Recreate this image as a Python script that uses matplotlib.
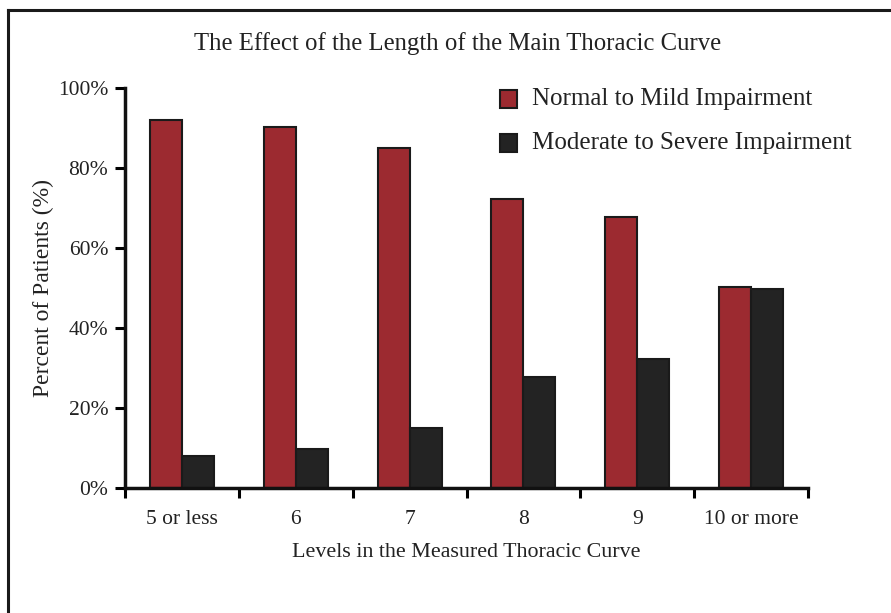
import matplotlib
matplotlib.use("Agg")
import matplotlib.pyplot as plt
from matplotlib.lines import Line2D
from matplotlib.patches import Rectangle
import numpy as np

categories = ["5 or less", "6", "7", "8", "9", "10 or more"]
normal_mild = [92, 90.3, 85, 72.3, 67.7, 50.3]
moderate_severe = [8, 9.7, 15, 27.7, 32.3, 49.7]
yticks = [0, 20, 40, 60, 80, 100]
series_names = ["Normal to Mild Impairment", "Moderate to Severe Impairment"]

red = "#9c2a30"
dark = "#232323"
txt = "#222222"

plt.rcParams["font.family"] = ["Liberation Serif", "DejaVu Serif"]

fig = plt.figure(figsize=(8.91, 6.13), dpi=100)
W, H = 891, 613
ax = fig.add_axes([125 / W, (H - 488) / H, (808 - 125) / W, 400 / H])

x = np.arange(len(categories)) + 0.5
bw = 0.281
ax.bar(x - bw / 2, normal_mild, bw, color=red, edgecolor="#1a1a1a", linewidth=1.5)
ax.bar(x + bw / 2, moderate_severe, bw, color=dark, edgecolor="#1a1a1a", linewidth=1.5)

ax.set_xlim(0, len(categories))
ax.set_ylim(0, 100)
ax.set_yticks(yticks)
ax.set_yticklabels([f"{v}%" for v in yticks], fontsize=15.5, color=txt)
ax.set_xticks(np.arange(len(categories) + 1))
ax.set_xticklabels([])
ax.set_xticks(x, minor=True)
ax.set_xticklabels(categories, minor=True, fontsize=15.5, color=txt)
ax.tick_params(axis="x", which="minor", length=0, pad=16)
ax.tick_params(axis="x", which="major", length=7, width=2.2, direction="out")
ax.tick_params(axis="y", length=7, width=2.2, direction="out", pad=5)

for s in ["top", "right"]:
    ax.spines[s].set_visible(False)
for s in ["left", "bottom"]:
    ax.spines[s].set_linewidth(2.5)
    ax.spines[s].set_color("#111111")

ax.set_ylabel("Percent of Patients (%)", fontsize=17, color=txt, labelpad=3)
ax.set_xlabel("Levels in the Measured Thoracic Curve", fontsize=15.8, color=txt, labelpad=10)

fig.text(458 / W, 1 - 44 / H, "The Effect of the Length of the Main Thoracic Curve",
         ha="center", va="center", fontsize=17.8, color=txt)

# legend drawn by hand in figure pixels
for i, (name, col) in enumerate(zip(series_names, [red, dark])):
    yc = 99 + 44 * i
    fig.add_artist(Rectangle((500 / W, 1 - (yc + 9) / H), 17 / W, 18 / H,
                             transform=fig.transFigure, facecolor=col,
                             edgecolor="#1a1a1a", linewidth=1.5))
    fig.text(532 / W, 1 - yc / H, name, ha="left", va="center", fontsize=18, color=txt)

# frame lines around the figure (top and left only)
fig.add_artist(Line2D([8 / W, 8 / W], [0, 1 - 10 / H], color="#1a1a1a", linewidth=2.2))
fig.add_artist(Line2D([8 / W, 1], [1 - 10 / H, 1 - 10 / H], color="#1a1a1a", linewidth=2.2))

fig.savefig("out.png", dpi=100, facecolor="white")
